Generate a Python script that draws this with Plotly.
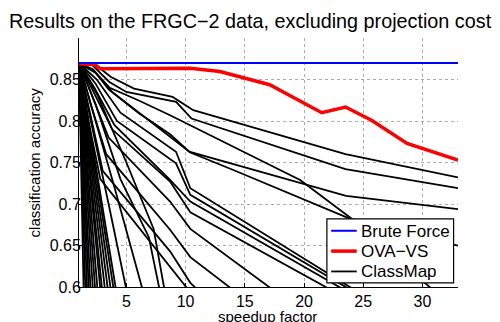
import plotly.graph_objects as go

# ---------------- data ----------------
brute_x = [1, 33]
brute_y = [0.870, 0.870]

ova_x = [1, 2.35, 2.77, 10.4, 12.9, 17.1, 21.5, 23.5, 25.7, 28.7, 33]
ova_y = [0.869, 0.868, 0.863, 0.8636, 0.8597, 0.8437, 0.810, 0.8168, 0.801, 0.773, 0.753]

# ClassMap curves (one list per curve)
classmap_x = [
    [1, 2.27, 3.7, 5.65, 8.9, 10.65, 23.5, 33],
    [1, 2.0, 3.56, 5.0, 9.2, 10.5, 23.5, 33],
    [1, 2.2, 3.5, 6.0, 8.69, 10.3, 23.55, 33],
    [1, 2.4, 3.8, 6.5, 9.19, 10.4, 14.03, 21.35, 23.75, 33],
    [1, 2.3, 3.6, 6.0, 8.69, 15.16, 19.67, 24.14, 31.4],
    [1, 2.5, 4.5, 9.19, 10.4, 25.0],
    [1, 2.4, 4.2, 9.19, 10.4, 24.7],
    [1, 2.3, 4.0, 8.69, 10.4, 24.2],
    [1, 2.2, 3.8, 8.69, 10.4, 23.1],
    [1, 2.1, 3.5, 8.69, 10.4, 18.0],
    [1, 2.0, 3.3, 8.69, 10.4, 14.6],
    [1, 1.9, 3.0, 8.69, 10.4, 11.5],
    [1, 1.8, 2.8, 8.69, 10.6],
    [1, 2.6, 5.0, 7.3, 8.3],
    [1, 2.4, 4.5, 6.9, 7.9],
    [1, 2.2, 4.0, 6.5],
    [1, 2.0, 3.5, 5.1],
    [1, 4.2], [1, 4.0], [1, 3.75], [1, 3.5], [1, 3.25], [1, 3.0],
    [1, 2.85], [1, 2.6], [1, 2.4], [1, 2.2], [1, 2.0], [1, 1.85],
    [1, 1.7], [1, 1.55], [1, 1.4],
]
classmap_y = [
    [0.870, 0.869, 0.853, 0.839, 0.829, 0.813, 0.760, 0.732],
    [0.870, 0.869, 0.847, 0.835, 0.823, 0.803, 0.742, 0.719],
    [0.870, 0.862, 0.838, 0.810, 0.784, 0.763, 0.7097, 0.6937],
    [0.870, 0.858, 0.835, 0.805, 0.775, 0.762, 0.741, 0.698, 0.683, 0.6497],
    [0.870, 0.860, 0.840, 0.825, 0.807, 0.761, 0.729, 0.681, 0.590],
    [0.870, 0.850, 0.810, 0.763, 0.719, 0.590],
    [0.870, 0.845, 0.800, 0.749, 0.711, 0.590],
    [0.870, 0.840, 0.795, 0.729, 0.703, 0.590],
    [0.870, 0.835, 0.790, 0.727, 0.690, 0.590],
    [0.870, 0.830, 0.780, 0.703, 0.670, 0.590],
    [0.870, 0.820, 0.760, 0.669, 0.636, 0.590],
    [0.870, 0.810, 0.740, 0.643, 0.605, 0.590],
    [0.870, 0.800, 0.730, 0.625, 0.590],
    [0.870, 0.830, 0.750, 0.670, 0.590],
    [0.870, 0.820, 0.730, 0.660, 0.590],
    [0.870, 0.810, 0.720, 0.590],
    [0.870, 0.800, 0.700, 0.590],
    [0.870, 0.590], [0.870, 0.590], [0.870, 0.590], [0.870, 0.590], [0.870, 0.590], [0.870, 0.590],
    [0.870, 0.590], [0.870, 0.590], [0.870, 0.590], [0.870, 0.590], [0.870, 0.590], [0.870, 0.590],
    [0.870, 0.590], [0.870, 0.590], [0.870, 0.590],
]

x_ticks = [5, 10, 15, 20, 25, 30]
y_ticks = [0.6, 0.65, 0.7, 0.75, 0.8, 0.85]
y_tick_text = ["0.6", "0.65", "0.7", "0.75", "0.8", "0.85"]

legend_names = ["Brute Force", "OVA\u2212VS", "ClassMap"]
legend_colors = ["#0000ff", "#ff0000", "black"]
legend_widths = [2, 3.5, 1.8]

# ---------------- figure ----------------
fig = go.Figure()

for i, (cx, cy) in enumerate(zip(classmap_x, classmap_y)):
    fig.add_trace(go.Scatter(
        x=cx, y=cy, mode="lines", name="ClassMap", legendgroup="cm",
        showlegend=False, line=dict(color="black", width=1.8)))

fig.add_trace(go.Scatter(x=ova_x, y=ova_y, mode="lines", name="OVA\u2212VS",
                         showlegend=False, line=dict(color="#ff0000", width=3.5)))
fig.add_trace(go.Scatter(x=brute_x, y=brute_y, mode="lines", name="Brute Force",
                         showlegend=False, line=dict(color="#0000ff", width=2)))

OFF = 8  # page body margin offset
L, T = 79 - OFF, 37.7 - OFF
PW, PH = 378.7, 249.7
R = 500 - L - PW
B = 322 - T - PH

def px2paper(px, py):
    px -= OFF
    py -= OFF
    return (px - L) / PW, (T + PH - py) / PH

fig.update_layout(
    width=500, height=322,
    margin=dict(l=L, r=R, t=T, b=B, pad=0),
    paper_bgcolor="white", plot_bgcolor="white",
    font=dict(family="Liberation Sans, Arial, sans-serif", color="black", size=16),
    showlegend=False,
)

fig.update_xaxes(range=[1, 33], tickvals=x_ticks, showline=True, linecolor="black",
                 linewidth=1, ticks="inside", ticklen=4, tickcolor="black",
                 showgrid=True, gridcolor="#aaaaaa", griddash="dot", gridwidth=1,
                 zeroline=False, mirror=False, tickfont=dict(size=16))
fig.update_yaxes(range=[0.6, 0.9], tickvals=y_ticks, ticktext=y_tick_text,
                 showline=True, linecolor="black",
                 linewidth=1, ticks="inside", ticklen=4, tickcolor="black",
                 showgrid=True, gridcolor="#aaaaaa", griddash="dot", gridwidth=1,
                 zeroline=False, mirror=False, tickfont=dict(size=16),
                 ticklabelstandoff=-6)

# legend drawn as a boxed key
x0, y0 = px2paper(326.7, 219)
x1, y1 = px2paper(453.3, 283.3)
fig.add_shape(type="rect", xref="paper", yref="paper", x0=x0, y0=y1, x1=x1, y1=y0,
              fillcolor="white", line=dict(color="black", width=1.2), layer="above")
for k, (nm, col, wd) in enumerate(zip(legend_names, legend_colors, legend_widths)):
    ly = 231 + k * 20.4
    sx0, sy = px2paper(331, ly)
    sx1, _ = px2paper(356.5, ly)
    fig.add_shape(type="line", xref="paper", yref="paper", x0=sx0, y0=sy, x1=sx1, y1=sy,
                  line=dict(color=col, width=wd), layer="above")
    tx, ty = px2paper(359, ly + 0.5)
    fig.add_annotation(text=nm, xref="paper", yref="paper", x=tx, y=ty,
                       xanchor="left", yanchor="middle", showarrow=False,
                       font=dict(size=17))

fig.add_annotation(text="Results on the FRGC\u22122 data, excluding projection cost",
                   xref="paper", yref="paper", x=px2paper(250, 0)[0], y=px2paper(0, 21)[1],
                   xanchor="center", yanchor="middle", showarrow=False,
                   font=dict(size=19.8))
fig.add_annotation(text="speedup factor", xref="paper", yref="paper",
                   x=px2paper(267.5, 0)[0], y=px2paper(0, 316.5)[1],
                   xanchor="center", yanchor="middle", showarrow=False,
                   font=dict(size=15))
fig.add_annotation(text="classification accuracy", xref="paper", yref="paper",
                   x=px2paper(34, 0)[0], y=px2paper(0, 162.5)[1],
                   xanchor="center", yanchor="middle", showarrow=False, textangle=-90,
                   font=dict(size=15))

fig.write_html("out.html")
